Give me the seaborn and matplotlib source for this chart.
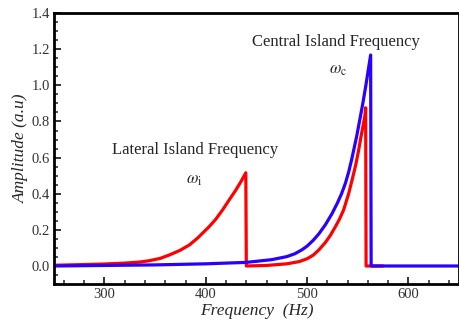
import matplotlib
matplotlib.use("Agg")
import matplotlib.pyplot as plt
from matplotlib.ticker import MultipleLocator
import pandas as pd
import seaborn as sns

# Lateral island response (red): rising branch, drop at 440 Hz, second branch up to ~558 Hz
red_freq = [250, 280, 300, 320, 335, 344, 355, 364, 374, 383.7, 392, 403.4, 410, 416.5,
            423, 429.6, 435, 439.5,
            440, 460, 480, 492, 500, 506, 511.6, 518, 523, 528, 532, 536, 541, 545, 548,
            550.9, 553, 555, 557, 557.8,
            558.2, 575]
red_amp = [0.004, 0.008, 0.011, 0.016, 0.022, 0.029, 0.042, 0.061, 0.085, 0.116, 0.155,
           0.218, 0.260, 0.310, 0.365, 0.420, 0.470, 0.516,
           0.0, 0.003, 0.012, 0.024, 0.040, 0.060, 0.089, 0.130, 0.170, 0.218, 0.260,
           0.310, 0.400, 0.490, 0.560, 0.642, 0.710, 0.770, 0.830, 0.876,
           0.0, 0.0]

# Central island response (blue)
blue_freq = [250, 300, 350, 400, 440, 465, 480, 488, 495, 500, 506, 511.6, 518, 524.6,
             530, 534, 537.8, 541, 544, 546, 549, 552, 555, 558, 560.5, 562.7,
             563.2, 650]
blue_amp = [0.0, 0.003, 0.006, 0.012, 0.020, 0.035, 0.052, 0.068, 0.090, 0.110, 0.142,
            0.178, 0.228, 0.290, 0.350, 0.400, 0.458, 0.520, 0.590, 0.642, 0.720, 0.810,
            0.900, 1.000, 1.090, 1.168,
            0.0, 0.0]

x_ticks = [300, 400, 500, 600]
y_ticks = [0.0, 0.2, 0.4, 0.6, 0.8, 1.0, 1.2, 1.4]

sns.set_style("ticks")
plt.rcParams["font.family"] = ["Liberation Serif", "DejaVu Serif"]
plt.rcParams["mathtext.fontset"] = "stix"

fig = plt.figure(figsize=(4.6, 3.28), dpi=100)
ax = fig.add_axes([0.117, 0.134, 0.881, 0.826])

red_df = pd.DataFrame({"freq": red_freq, "amp": red_amp})
blue_df = pd.DataFrame({"freq": blue_freq, "amp": blue_amp})
sns.lineplot(data=red_df, x="freq", y="amp", ax=ax, color="#ff0000", lw=2.3,
             sort=False, estimator=None)
sns.lineplot(data=blue_df, x="freq", y="amp", ax=ax, color="#2a00ff", lw=2.3,
             sort=False, estimator=None)

ax.set_xlim(250, 650)
ax.set_ylim(-0.1, 1.4)
ax.set_xticks(x_ticks)
ax.set_yticks(y_ticks)
ax.set_yticklabels([f"{v:.1f}" for v in y_ticks])
ax.xaxis.set_minor_locator(MultipleLocator(20))
ax.yaxis.set_minor_locator(MultipleLocator(0.05))
ax.tick_params(which="both", direction="in", top=False, right=False,
               labelsize=10.5, colors="#222222", labelcolor="#333333")
ax.tick_params(which="major", length=5, width=1.3, pad=3)
ax.tick_params(which="minor", length=3, width=1.1)
for s in ax.spines.values():
    s.set_linewidth(2.0)
    s.set_color("black")

ax.set_xlabel("Frequency  (Hz)", fontsize=12.5, style="italic", labelpad=1)
ax.set_ylabel("Amplitude (a.u)", fontsize=12.5, style="italic", labelpad=2)

ax.text(528, 1.24, "Central Island Frequency", fontsize=12, ha="center", va="center")
ax.text(531, 1.085, r"$\omega_{\mathrm{c}}$", fontsize=12, ha="center", va="center")
ax.text(389, 0.642, "Lateral Island Frequency", fontsize=12, ha="center", va="center")
ax.text(389, 0.476, r"$\omega_{\mathrm{i}}$", fontsize=12, ha="center", va="center")

fig.savefig("out.png", dpi=100)
